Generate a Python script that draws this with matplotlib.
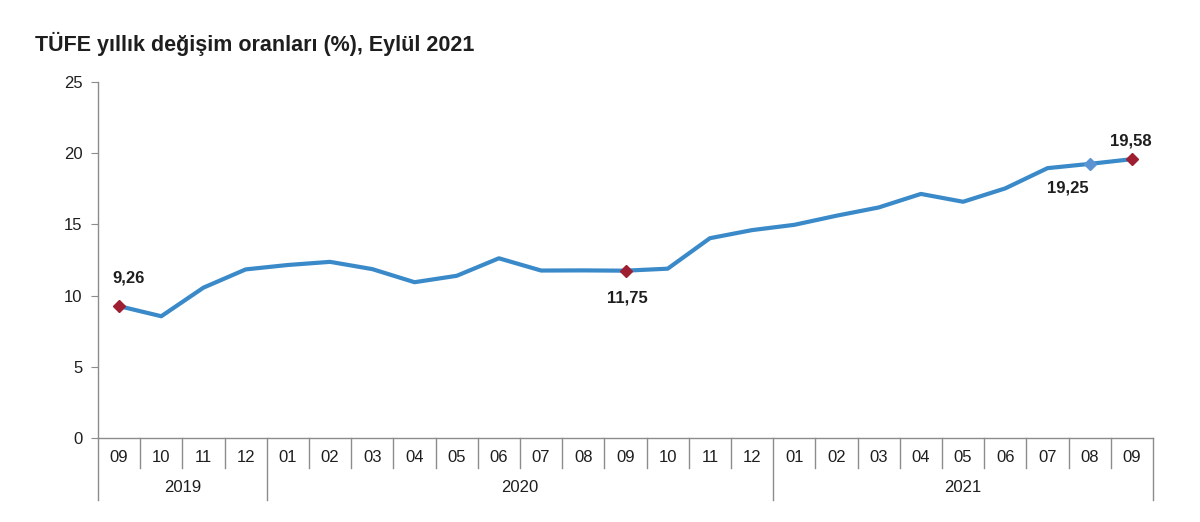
import numpy as np
import matplotlib
matplotlib.use('Agg')
import matplotlib.pyplot as plt
import matplotlib.transforms as mtransforms

plt.rcParams['font.family'] = ['Liberation Sans', 'DejaVu Sans']

# data
months = ['09', '10', '11', '12',
          '01', '02', '03', '04', '05', '06', '07', '08', '09', '10', '11', '12',
          '01', '02', '03', '04', '05', '06', '07', '08', '09']
years = ['2019', '2020', '2021']
year_counts = [4, 12, 9]
cpi = [9.26, 8.55, 10.56, 11.84,
       12.15, 12.37, 11.86, 10.94, 11.39, 12.62, 11.76, 11.77, 11.75, 11.89, 14.03, 14.60,
       14.97, 15.61, 16.19, 17.14, 16.59, 17.53, 18.95, 19.25, 19.58]
red_idx = [0, 12, 24]
blue_idx = [23]

line_col = '#3A8AC9'
red_col = '#9E1F32'
grid_col = '#8C8C8C'
txt_col = '#1E1E1E'
fs = 12

fig = plt.figure(figsize=(12, 5.22), dpi=100)
ax = fig.add_axes([98/1200, 1-438/522, (1153-98)/1200, (438-82)/522])

x = np.arange(len(cpi)) + 0.5
ax.plot(x, cpi, color=line_col, lw=3, zorder=2)
ax.plot(x[red_idx], np.array(cpi)[red_idx], 'D', color=red_col, ms=6, zorder=3)
ax.plot(x[blue_idx], np.array(cpi)[blue_idx], 'D', color='#5B93D3', ms=6, zorder=3)

def fmt(v):
    return ('%.2f' % v).replace('.', ',')

# value labels
ax.annotate(fmt(cpi[0]), (x[0], cpi[0]), xytext=(7, 15), textcoords='offset points',
            ha='center', va='bottom', fontsize=fs, fontweight='bold', color=txt_col)
ax.annotate(fmt(cpi[12]), (x[12], cpi[12]), xytext=(1, -14), textcoords='offset points',
            ha='center', va='top', fontsize=fs, fontweight='bold', color=txt_col)
ax.annotate(fmt(cpi[23]), (x[23], cpi[23]), xytext=(-16, -12), textcoords='offset points',
            ha='center', va='top', fontsize=fs, fontweight='bold', color=txt_col)
ax.annotate(fmt(cpi[24]), (x[24], cpi[24]), xytext=(-1, 8), textcoords='offset points',
            ha='center', va='bottom', fontsize=fs, fontweight='bold', color=txt_col)

ax.set_xlim(0, len(cpi))
ax.set_ylim(0, 25)
ax.set_yticks(range(0, 26, 5))
ax.tick_params(axis='y', direction='out', length=5, color=grid_col, labelsize=fs,
               labelcolor=txt_col, pad=6)
ax.set_xticks([])
for s in ['top', 'right']:
    ax.spines[s].set_visible(False)
for s in ['left', 'bottom']:
    ax.spines[s].set_color(grid_col)
    ax.spines[s].set_linewidth(1)

# category axis below
trans = mtransforms.blended_transform_factory(ax.transData, ax.transAxes)
month_bot = -30/356
year_bot = -62/356
year_edges = np.cumsum([0] + year_counts)
for i in range(len(months) + 1):
    bot = year_bot if i in year_edges else month_bot
    ax.plot([i, i], [0, bot], color=grid_col, lw=1, transform=trans, clip_on=False)
for i, m in enumerate(months):
    ax.text(i + 0.5, -20/356, m, transform=trans, ha='center', va='center',
            fontsize=fs, color=txt_col)
for y, a, b in zip(years, year_edges[:-1], year_edges[1:]):
    ax.text((a + b) / 2, -50/356, y, transform=trans, ha='center', va='center',
            fontsize=fs, color=txt_col)

fig.text(35/1200, 1-44/522, 'TÜFE yıllık değişim oranları (%), Eylül 2021',
         fontsize=15.5, fontweight='bold', color=txt_col, ha='left', va='center')

fig.savefig('out.png', dpi=100, facecolor='white')
